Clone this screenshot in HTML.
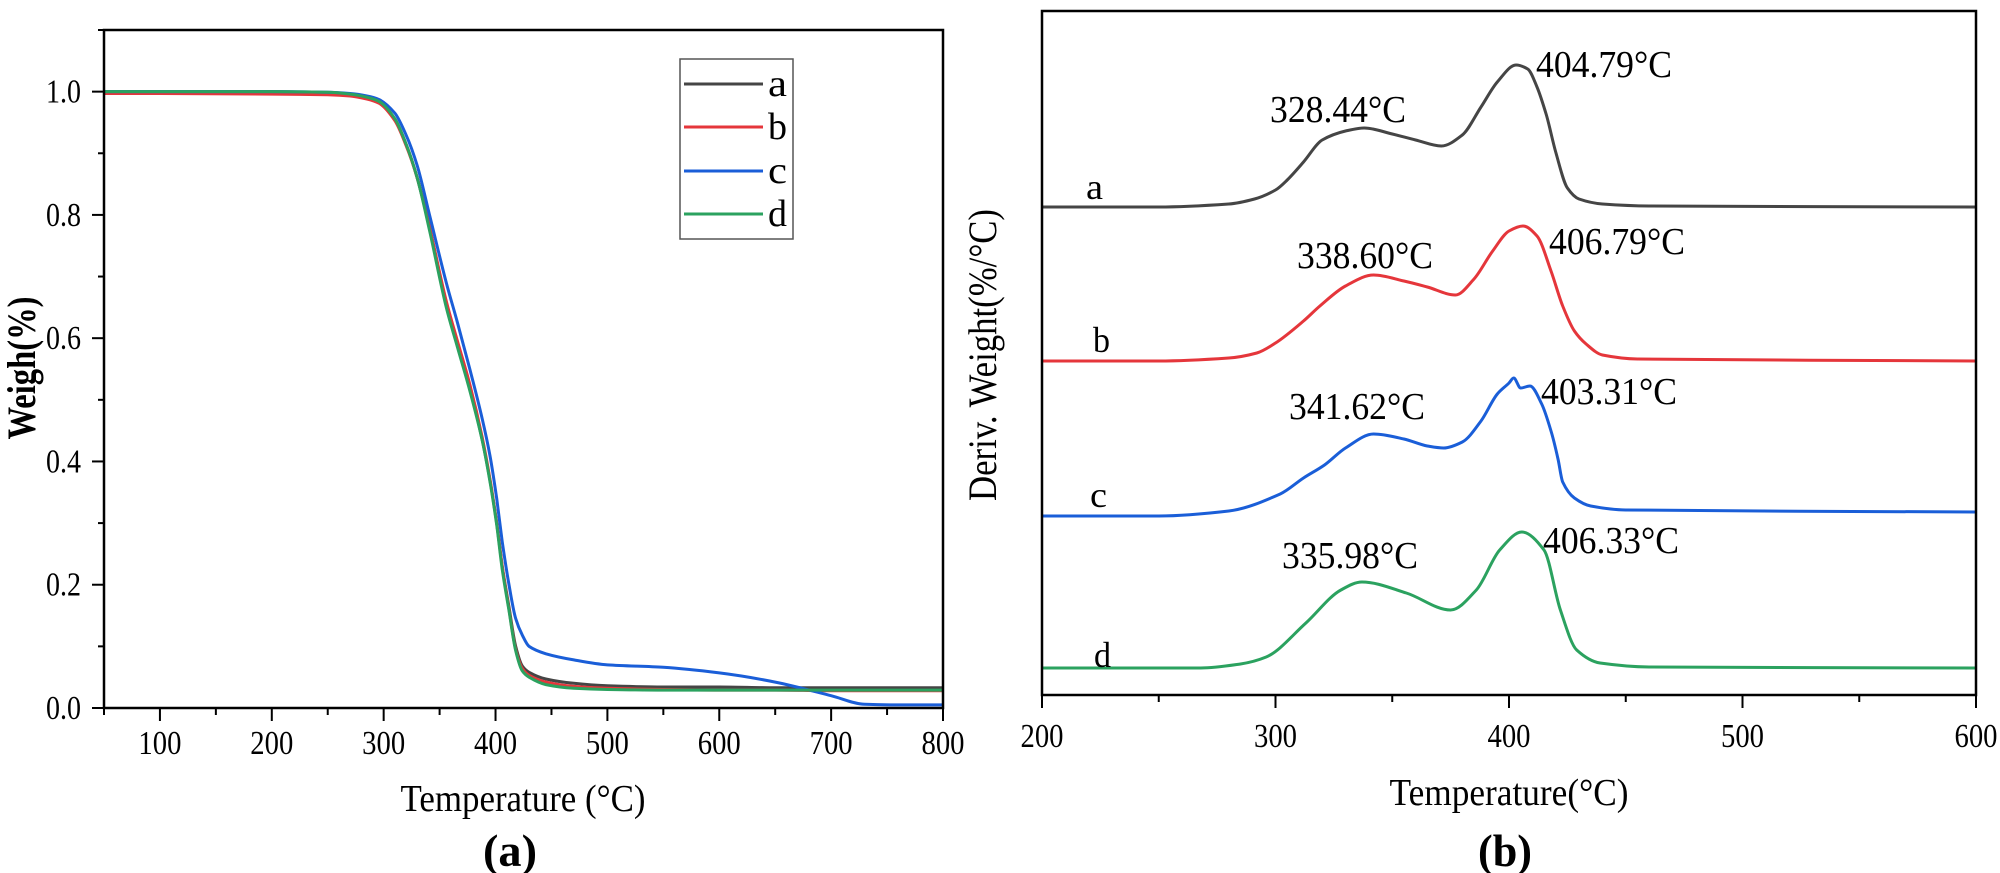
<!DOCTYPE html>
<html><head><meta charset="utf-8">
<style>
html,body{margin:0;padding:0;background:#fff;}
svg{display:block;font-family:"Liberation Serif","Times New Roman",serif;}
</style></head>
<body>
<svg id="fig" width="2000" height="873" viewBox="0 0 2000 873" xmlns="http://www.w3.org/2000/svg">
  <g id="panelA"></g>
  <g id="panelB"></g>
</svg>
<script>
// ---------- Panel (a) data ----------
const tgaTemps = [50,100,200,250,270,285,296,310,320,330,341,356,366,377,388,395,401,406,412,418,424,430,445,470,500,550,600,650,700,730,760,800];
const tgaA = [1,1,1,0.998,0.995,0.99,0.983,0.955,0.915,0.86,0.78,0.655,0.59,0.52,0.436,0.37,0.30,0.23,0.164,0.10,0.068,0.058,0.047,0.040,0.036,0.034,0.034,0.033,0.033,0.033,0.033,0.033];
const tgaB = [0.997,0.997,0.996,0.995,0.993,0.988,0.981,0.953,0.913,0.86,0.78,0.66,0.595,0.525,0.44,0.372,0.30,0.23,0.16,0.095,0.064,0.053,0.042,0.035,0.032,0.030,0.029,0.029,0.028,0.028,0.028,0.028];
const tgaC = [1,1,1,0.999,0.997,0.993,0.987,0.965,0.93,0.88,0.80,0.69,0.625,0.55,0.47,0.41,0.34,0.27,0.20,0.145,0.118,0.10,0.088,0.078,0.07,0.066,0.057,0.042,0.02,0.006,0.005,0.005];
const tgaD = [1,1,1,0.999,0.996,0.991,0.984,0.956,0.915,0.86,0.775,0.65,0.585,0.515,0.435,0.368,0.297,0.225,0.158,0.093,0.06,0.05,0.038,0.032,0.03,0.029,0.029,0.029,0.029,0.029,0.029,0.029];
const tgaXTicks = [100,200,300,400,500,600,700,800];
const tgaYTicks = [0.0,0.2,0.4,0.6,0.8,1.0];
const legendLabels = ["a","b","c","d"];

// ---------- Panel (b) data ----------
const dtgTempsA = [200,250,280,291,300,305,312,320,330,338,350,360,371,380,388,395,403,408,412,416,420,425,430,440,460,600];
const dtgA      = [0,0,3,8,17,27,45,67,76,79,73,67,61,72,100,125,142,138,120,92,55,19,8,3,1,0];
const dtgTempsB = [200,250,280,292,300,312,319,330,342,355,365,377,385,393,400,406,412,418,423,428,433,440,455,600];
const dtgB      = [0,0,3,8,18,40,55,75,86,80,74,66,82,110,130,135,125,90,55,30,17,6,2,0];
const dtgTempsC = [200,250,280,302,312,321,330,342,355,365,372,380,388,395,400,402,405,409,414,418,421,423,428,435,450,600];
const dtgC      = [0,0,5,22,38,51,68,82,77,70,68,74,95,122,133,138,128,130,112,85,57,34,18,10,6,4];
const dtgTempsD = [200,268,285,296,313,328,337,356,375,386,396,405.5,415,422,429,439,460,600];
const dtgD      = [0,0,4,11,45,78,86,75,58,78,118,136,118,58,18,5,1,0];
const dtgOffsets = [488,334,179,27];
const dtgXTicks = [200,300,400,500,600];
const peakLabels = ["328.44°C","404.79°C","338.60°C","406.79°C","341.62°C","403.31°C","335.98°C","406.33°C"];
const curveLetters = ["a","b","c","d"];

const colors = ["#454545","#e5363b","#1a5ed8","#2ba25f"];
const NS = "http://www.w3.org/2000/svg";
function mk(tag, attrs, parent, text){
  const e = document.createElementNS(NS, tag);
  for (const k in attrs) e.setAttribute(k, attrs[k]);
  if (text !== undefined) e.textContent = text;
  parent.appendChild(e);
  return e;
}
// smooth path: cubic Hermite with x-aware tangents (no overshoot in x)
function smoothPath(pts){
  const n = pts.length;
  const m = [];
  for (let i=0;i<n;i++){
    if (i===0) m.push((pts[1][1]-pts[0][1])/(pts[1][0]-pts[0][0]));
    else if (i===n-1) m.push((pts[n-1][1]-pts[n-2][1])/(pts[n-1][0]-pts[n-2][0]));
    else {
      const s0 = (pts[i][1]-pts[i-1][1])/(pts[i][0]-pts[i-1][0]);
      const s1 = (pts[i+1][1]-pts[i][1])/(pts[i+1][0]-pts[i][0]);
      m.push(s0*s1<=0 ? 0 : 2/(1/s0+1/s1));
    }
  }
  let d = 'M'+pts[0][0].toFixed(1)+' '+pts[0][1].toFixed(1);
  for (let i=0;i<n-1;i++){
    const dx = (pts[i+1][0]-pts[i][0])/3;
    d += ' C'+(pts[i][0]+dx).toFixed(1)+' '+(pts[i][1]+m[i]*dx).toFixed(1)+' '+(pts[i+1][0]-dx).toFixed(1)+' '+(pts[i+1][1]-m[i+1]*dx).toFixed(1)+' '+pts[i+1][0].toFixed(1)+' '+pts[i+1][1].toFixed(1);
  }
  return d;
}

// ================= Panel A =================
const A = document.getElementById('panelA');
const ax = {x0:104, x1:943, y0:708, y1:30};
const xA = t => ax.x0 + (t-50)/(800-50)*(ax.x1-ax.x0);
const yA = w => ax.y0 - w/1.1*(ax.y0-ax.y1);

const seriesA = [tgaA, tgaB, tgaC, tgaD];
seriesA.forEach((s,i)=>{
  const pts = s.map((w,j)=>[xA(tgaTemps[j]), yA(w)]);
  const p = mk('path',{d:smoothPath(pts),fill:'none',stroke:colors[i],'stroke-width':3,'stroke-linejoin':'round'},A);
  
  
});
const fA = mk('rect',{x:ax.x0,y:ax.y1,width:ax.x1-ax.x0,height:ax.y0-ax.y1,fill:'none',stroke:'#000','stroke-width':2.5},A);


for (let t=50; t<=800; t+=50){
  const major = t%100===0;
  const tk = mk('line',{x1:xA(t),x2:xA(t),y1:ax.y0,y2:ax.y0+(major?13:7),stroke:'#000','stroke-width':2},A);
  
  
}
tgaXTicks.forEach(t=>{
  const l = mk('text',{x:xA(t),y:754,'text-anchor':'middle','font-size':34,textLength:43,lengthAdjust:'spacingAndGlyphs'},A,String(t));
  
  
});
for (let k=0; k<=11; k++){
  const w = k/10;
  const major = k%2===0;
  const tk = mk('line',{x1:ax.x0,x2:ax.x0-(major?12:6),y1:yA(w),y2:yA(w),stroke:'#000','stroke-width':2},A);
  
  
}
tgaYTicks.forEach(w=>{
  const l = mk('text',{x:81,y:yA(w)+11,'text-anchor':'end','font-size':34,textLength:35,lengthAdjust:'spacingAndGlyphs'},A,w.toFixed(1));
  
  
});
const xtA = mk('text',{x:523,y:811,'text-anchor':'middle','font-size':38,textLength:245,lengthAdjust:'spacingAndGlyphs'},A,'Temperature (°C)');


const ytA = mk('text',{x:0,y:0,'text-anchor':'middle','font-size':40,'font-weight':'bold',textLength:143,lengthAdjust:'spacingAndGlyphs',transform:'translate(35,368) rotate(-90)'},A,'Weigh(%)');


const capA = mk('text',{x:510,y:866,'text-anchor':'middle','font-size':46,'font-weight':'bold',textLength:54,lengthAdjust:'spacingAndGlyphs'},A,'(a)');


const lg = mk('g',{},A);


mk('rect',{x:680,y:59,width:113,height:180,fill:'#fff',stroke:'#555','stroke-width':1.5},lg);
const legY = [84,127,171,214];
legendLabels.forEach((n,i)=>{
  const g = mk('g',{},lg);
  
  
  mk('line',{x1:684,x2:763,y1:legY[i],y2:legY[i],stroke:colors[i],'stroke-width':3},g);
  mk('text',{x:768,y:legY[i]+12,'font-size':38,textLength:19,lengthAdjust:'spacingAndGlyphs'},g,n);
});

// ================= Panel B =================
const B = document.getElementById('panelB');
const bx = {x0:1042, x1:1976, y0:695, y1:11};
const xB = t => bx.x0 + (t-200)/400*(bx.x1-bx.x0);
const yB = v => bx.y0 - v/684*(bx.y0-bx.y1);
const dtgT = [dtgTempsA,dtgTempsB,dtgTempsC,dtgTempsD];
const dtgV = [dtgA,dtgB,dtgC,dtgD];
dtgV.forEach((s,i)=>{
  const pts = s.map((v,j)=>[xB(dtgT[i][j]), yB(v+dtgOffsets[i])]);
  const p = mk('path',{d:smoothPath(pts),fill:'none',stroke:colors[i],'stroke-width':3,'stroke-linejoin':'round'},B);
  
  
});
const fB = mk('rect',{x:bx.x0,y:bx.y1,width:bx.x1-bx.x0,height:bx.y0-bx.y1,fill:'none',stroke:'#000','stroke-width':2.5},B);


for (let t=200; t<=600; t+=50){
  const major = t%100===0;
  const tk = mk('line',{x1:xB(t),x2:xB(t),y1:bx.y0,y2:bx.y0+(major?13:7),stroke:'#000','stroke-width':2},B);
  
  
}
dtgXTicks.forEach(t=>{
  const l = mk('text',{x:xB(t),y:747,'text-anchor':'middle','font-size':34,textLength:43,lengthAdjust:'spacingAndGlyphs'},B,String(t));
  
  
});
const xtB = mk('text',{x:1509,y:805,'text-anchor':'middle','font-size':38,textLength:239,lengthAdjust:'spacingAndGlyphs'},B,'Temperature(°C)');


const ytB = mk('text',{x:0,y:0,'text-anchor':'middle','font-size':40,textLength:292,lengthAdjust:'spacingAndGlyphs',transform:'translate(996,355) rotate(-90)'},B,'Deriv. Weight(%/°C)');


const capB = mk('text',{x:1505,y:866,'text-anchor':'middle','font-size':46,'font-weight':'bold',textLength:54,lengthAdjust:'spacingAndGlyphs'},B,'(b)');


const peakPos = [[1270,122],[1536,77],[1297,268],[1549,254],[1289,419],[1541,404],[1282,568],[1543,553]];
peakLabels.forEach((s,i)=>{
  const l = mk('text',{x:peakPos[i][0],y:peakPos[i][1],'font-size':38,textLength:136,lengthAdjust:'spacingAndGlyphs'},B,s);
  
  
});
const letPos = [[1086,199],[1093,352],[1090,507],[1094,667]];
curveLetters.forEach((s,i)=>{
  const l = mk('text',{x:letPos[i][0],y:letPos[i][1],'font-size':36,textLength:17,lengthAdjust:'spacingAndGlyphs'},B,s);
  
  
});
</script>
</body></html>
